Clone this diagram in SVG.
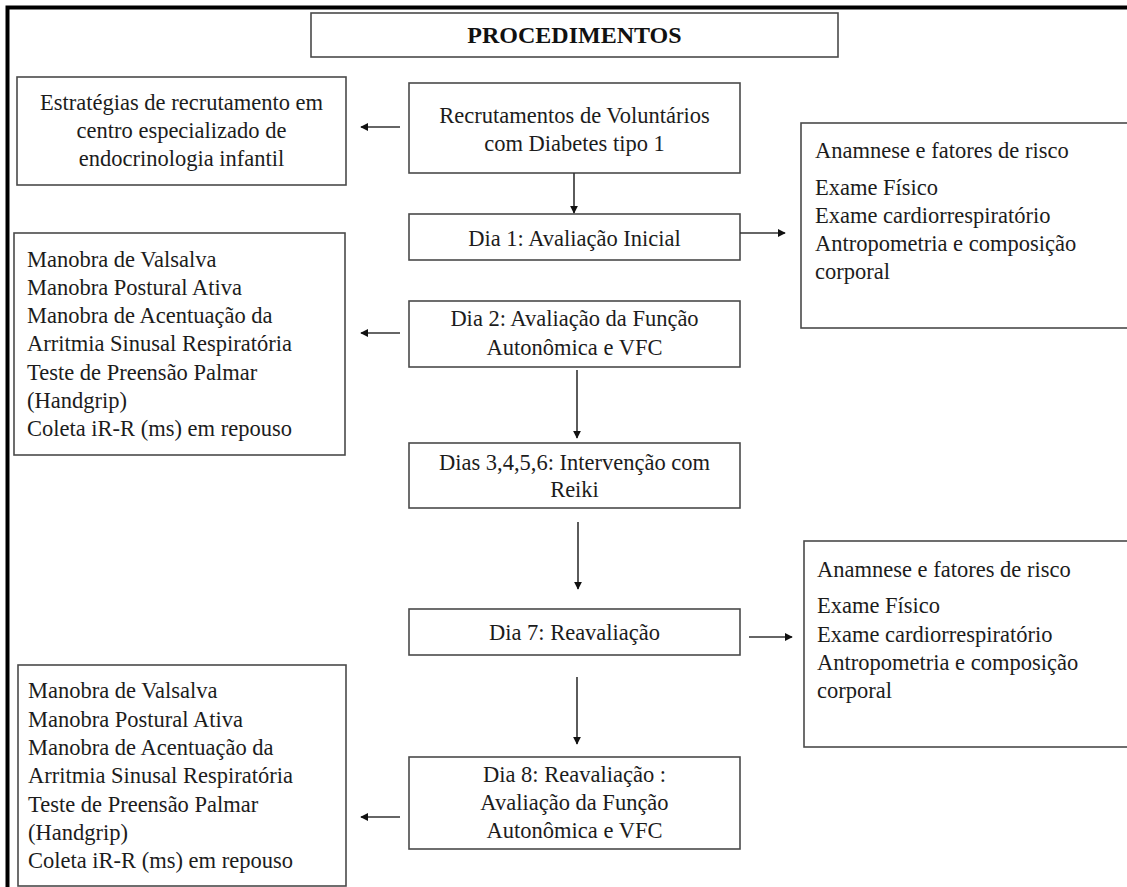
<svg xmlns="http://www.w3.org/2000/svg" width="1127" height="887" viewBox="0 0 1127 887">
<style>
.box{fill:#fff;stroke:#4a4a4a;stroke-width:1.6}
.t{font-family:"Liberation Serif","Times New Roman",serif;font-size:22.5px;fill:#1c1c1c}
.c{text-anchor:middle}
.title{font-family:"Liberation Serif","Times New Roman",serif;font-size:24px;font-weight:bold;fill:#111;text-anchor:middle}
.ln{stroke:#333;stroke-width:1.6;fill:none;marker-end:url(#ah)}
</style>
<defs>
<marker id="ah" viewBox="0 0 10 10" refX="9" refY="5" markerWidth="5" markerHeight="5" orient="auto" markerUnits="strokeWidth">
<path d="M0,0 L10,5 L0,10 Z" fill="#111"/>
</marker>
</defs>
<rect x="0" y="0" width="1127" height="887" fill="#fff"/>
<rect id="frame" x="7.5" y="7.5" width="1140" height="900" fill="none" stroke="#000" stroke-width="4"/>

<g id="title">
<rect class="box" x="311" y="13" width="527" height="44"/>
<text class="title" x="574.5" y="43">PROCEDIMENTOS</text>
</g>

<g id="estrategias">
<rect class="box" x="17" y="77" width="329" height="108"/>
<text class="t c" x="181.5" y="110">Estratégias de recrutamento em</text>
<text class="t c" x="181.5" y="138">centro especializado de</text>
<text class="t c" x="181.5" y="166">endocrinologia infantil</text>
</g>

<g id="recrutamento">
<rect class="box" x="409" y="83" width="331" height="90"/>
<text class="t c" x="574.5" y="123">Recrutamentos de Voluntários</text>
<text class="t c" x="574.5" y="151">com Diabetes tipo 1</text>
</g>

<g id="dia1">
<rect class="box" x="409" y="214" width="331" height="46"/>
<text class="t c" x="574.5" y="246">Dia 1: Avaliação Inicial</text>
</g>

<g id="avaliacao1">
<rect class="box" x="801" y="123" width="340" height="205"/>
<text class="t" x="815" y="158">Anamnese e fatores de risco</text>
<text class="t" x="815" y="195">Exame Físico</text>
<text class="t" x="815" y="223">Exame cardiorrespiratório</text>
<text class="t" x="815" y="251">Antropometria e composição</text>
<text class="t" x="815" y="279">corporal</text>
</g>

<g id="manobras1">
<rect class="box" x="14" y="233" width="331" height="222"/>
<text class="t" x="27" y="267">Manobra de Valsalva</text>
<text class="t" x="27" y="295">Manobra Postural Ativa</text>
<text class="t" x="27" y="323">Manobra de Acentuação da</text>
<text class="t" x="27" y="351">Arritmia Sinusal Respiratória</text>
<text class="t" x="27" y="380">Teste de Preensão Palmar</text>
<text class="t" x="27" y="408">(Handgrip)</text>
<text class="t" x="27" y="436">Coleta iR-R (ms) em repouso</text>
</g>

<g id="dia2">
<rect class="box" x="409" y="301" width="331" height="66"/>
<text class="t c" x="574.5" y="326">Dia 2: Avaliação da Função</text>
<text class="t c" x="574.5" y="355">Autonômica e VFC</text>
</g>

<g id="dias3a6">
<rect class="box" x="409" y="443" width="331" height="65"/>
<text class="t c" x="574.5" y="470">Dias 3,4,5,6: Intervenção com</text>
<text class="t c" x="574.5" y="497">Reiki</text>
</g>

<g id="dia7">
<rect class="box" x="409" y="609" width="331" height="46"/>
<text class="t c" x="574.5" y="640">Dia 7: Reavaliação</text>
</g>

<g id="avaliacao7">
<rect class="box" x="804" y="541" width="340" height="206"/>
<text class="t" x="817" y="577">Anamnese e fatores de risco</text>
<text class="t" x="817" y="613">Exame Físico</text>
<text class="t" x="817" y="642">Exame cardiorrespiratório</text>
<text class="t" x="817" y="670">Antropometria e composição</text>
<text class="t" x="817" y="698">corporal</text>
</g>

<g id="dia8">
<rect class="box" x="409" y="757" width="331" height="92"/>
<text class="t c" x="574.5" y="782">Dia 8: Reavaliação :</text>
<text class="t c" x="574.5" y="810">Avaliação da Função</text>
<text class="t c" x="574.5" y="838">Autonômica e VFC</text>
</g>

<g id="manobras8">
<rect class="box" x="18" y="665" width="328" height="221"/>
<text class="t" x="28" y="698">Manobra de Valsalva</text>
<text class="t" x="28" y="727">Manobra Postural Ativa</text>
<text class="t" x="28" y="755">Manobra de Acentuação da</text>
<text class="t" x="28" y="783">Arritmia Sinusal Respiratória</text>
<text class="t" x="28" y="812">Teste de Preensão Palmar</text>
<text class="t" x="28" y="840">(Handgrip)</text>
<text class="t" x="28" y="868">Coleta iR-R (ms) em repouso</text>
</g>

<g id="connectors">
<line class="ln" x1="400" y1="127" x2="361" y2="127"/>
<line class="ln" x1="574" y1="173" x2="574" y2="213"/>
<line class="ln" x1="740" y1="233" x2="785" y2="233"/>
<line class="ln" x1="400" y1="333" x2="361" y2="333"/>
<line class="ln" x1="577" y1="370" x2="577" y2="438"/>
<line class="ln" x1="578" y1="522" x2="578" y2="589"/>
<line class="ln" x1="749" y1="637" x2="792" y2="637"/>
<line class="ln" x1="577" y1="677" x2="577" y2="744"/>
<line class="ln" x1="400" y1="817" x2="361" y2="817"/>
</g>
</svg>
